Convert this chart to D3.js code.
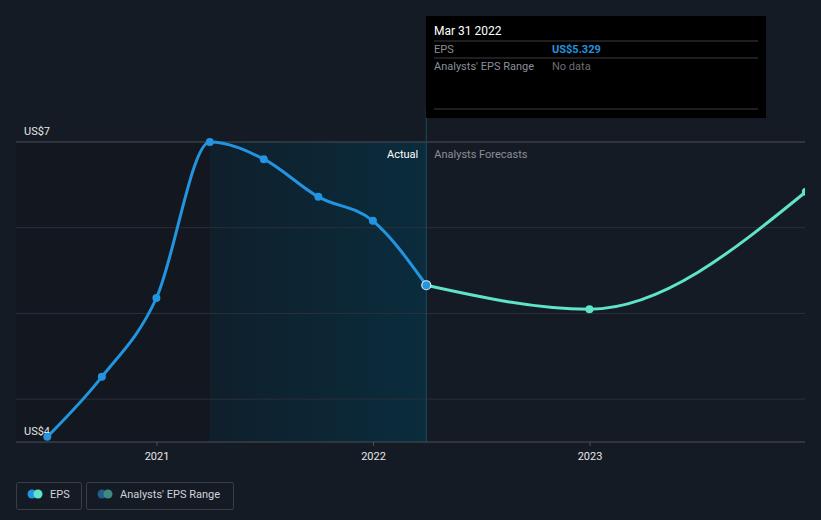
<!DOCTYPE html>
<html><head><meta charset="utf-8">
<script src="https://cdn.jsdelivr.net/npm/d3@7"></script>
<style>
html,body{margin:0;padding:0;background:#151b24;}
svg{display:block;font-family:Roboto,"Open Sans",sans-serif;}
</style></head>
<body><svg id="c" width="821" height="520"></svg>
<script>
const actualDates = ["2020-06-30","2020-09-30","2020-12-31","2021-03-31","2021-06-30","2021-09-30","2021-12-31","2022-03-31"];
const actualEPS = [3.56, 4.26, 5.18, 7.0, 6.80, 6.36, 6.08, 5.329];
const forecastDates = ["2022-03-31","2022-12-31","2023-12-31"];
const forecastEPS = [5.329, 5.05, 6.42];
const gridValues = [4, 5, 6, 7];
const yTickLabels = [{v:7, t:"US$7"}, {v:3.5, t:"US$4"}];
const xTicks = ["2021-01-01","2022-01-01","2023-01-01"];
const shadeStart = "2021-03-31", shadeEnd = "2022-03-31";

const parse = d3.utcParse("%Y-%m-%d");
const svg = d3.select("#c");
const L = 16, R = 805, T = 142, B = 442;
const t21 = +parse("2021-01-01"), t23 = +parse("2023-01-01");
const pxPerMs = (590 - 157) / (t23 - t21);
const x = d3.scaleUtc()
  .domain([new Date(t21 - (157 - L) / pxPerMs), new Date(t21 + (R - 157) / pxPerMs)])
  .range([L, R]);
const y = d3.scaleLinear().domain([3.5, 7]).range([B, T]);

const defs = svg.append("defs");
const g1 = defs.append("linearGradient").attr("id","shade").attr("x1","0").attr("x2","1").attr("y1","0").attr("y2","0");
g1.append("stop").attr("offset","0").attr("stop-color","#0f1f2b");
g1.append("stop").attr("offset","1").attr("stop-color","#0a2c3d");
defs.append("clipPath").attr("id","clip").append("rect").attr("x",L).attr("y",0).attr("width",R-L).attr("height",B);

svg.append("rect").attr("x",L).attr("y",T).attr("width",x(parse(shadeStart))-L).attr("height",B-T).attr("fill","#13171f");
svg.append("rect").attr("x",x(parse(shadeStart))).attr("y",T).attr("width",x(parse(shadeEnd))-x(parse(shadeStart))).attr("height",B-T).attr("fill","url(#shade)");

svg.selectAll(".grid").data(gridValues).join("line")
  .attr("x1",L).attr("x2",R).attr("y1",d=>y(d)).attr("y2",d=>y(d))
  .attr("stroke", d=> d===7 ? "#4a4f57" : "#2b303a").attr("stroke-width",1);
svg.append("line").attr("x1",L).attr("x2",R).attr("y1",B).attr("y2",B).attr("stroke","#4a4f57");
svg.selectAll(".xt").data(xTicks).join("line")
  .attr("x1",d=>x(parse(d))).attr("x2",d=>x(parse(d))).attr("y1",B).attr("y2",B+4).attr("stroke","#4a4f57");
svg.selectAll(".xl").data(xTicks).join("text")
  .attr("x",d=>x(parse(d))).attr("y",B+18).attr("text-anchor","middle")
  .attr("fill","#e6e6e6").attr("font-size",11).text(d=>d.slice(0,4));
svg.selectAll(".yl").data(yTickLabels).join("text")
  .attr("x",24).attr("y",d=>y(d.v)-7).attr("fill","#e6e6e6").attr("font-size",11).text(d=>d.t);

const xd = x(parse(shadeEnd));
svg.append("line").attr("x1",xd).attr("x2",xd).attr("y1",110).attr("y2",B).attr("stroke","#1c4a62").attr("stroke-width",1);
svg.append("text").attr("x",xd-8).attr("y",158).attr("text-anchor","end").attr("fill","#ffffff").attr("font-size",11).text("Actual");
svg.append("text").attr("x",xd+8).attr("y",158).attr("fill","#8a8f98").attr("font-size",11).text("Analysts Forecasts");

const line = d3.line().curve(d3.curveMonotoneX).x(d=>x(d.d)).y(d=>y(d.v));
const act = actualDates.map((d,i)=>({d:parse(d), v:actualEPS[i]}));
const fc = forecastDates.map((d,i)=>({d:parse(d), v:forecastEPS[i]}));
const plot = svg.append("g").attr("clip-path","url(#clip)");
plot.append("path").datum(fc).attr("d",line).attr("fill","none").attr("stroke","#5fe3c9").attr("stroke-width",3);
plot.append("path").datum(act).attr("d",line).attr("fill","none").attr("stroke","#2394df").attr("stroke-width",3);
plot.selectAll(".fp").data(fc.slice(1)).join("circle").attr("cx",d=>x(d.d)).attr("cy",d=>y(d.v)).attr("r",4).attr("fill","#5fe3c9");
plot.selectAll(".ap").data(act.slice(0,-1)).join("circle").attr("cx",d=>x(d.d)).attr("cy",d=>y(d.v)).attr("r",4).attr("fill","#2394df");
const last = act[act.length-1];
plot.append("circle").attr("cx",x(last.d)).attr("cy",y(last.v)).attr("r",4.5).attr("fill","#2394df").attr("stroke","#d8e8f5").attr("stroke-width",1.2);

const tt = svg.append("g");
tt.append("rect").attr("x",426).attr("y",16).attr("width",340).attr("height",102).attr("fill","#000");
tt.append("text").attr("x",434).attr("y",35).attr("fill","#fff").attr("font-size",12).text("Mar 31 2022");
[41,58,109].forEach(yy=>tt.append("line").attr("x1",434).attr("x2",758).attr("y1",yy).attr("y2",yy).attr("stroke","#3a3d42"));
tt.append("text").attr("x",434).attr("y",53).attr("fill","#8a8f98").attr("font-size",11).text("EPS");
tt.append("text").attr("x",552).attr("y",53).attr("fill","#2394df").attr("font-size",11).attr("font-weight",700).text("US$" + actualEPS[actualEPS.length-1].toFixed(3));
tt.append("text").attr("x",434).attr("y",70).attr("fill","#8a8f98").attr("font-size",11).text("Analysts' EPS Range");
tt.append("text").attr("x",552).attr("y",70).attr("fill","#6a6e75").attr("font-size",11).text("No data");

const lg = [{x:16,w:65,label:"EPS",c1:"#2394df",c2:"#5fe3c9"},{x:86,w:147,label:"Analysts' EPS Range",c1:"#1f5f8a",c2:"#3e8a82"}];
const leg = svg.selectAll(".lg").data(lg).join("g");
leg.append("rect").attr("x",d=>d.x+0.5).attr("y",482.5).attr("width",d=>d.w).attr("height",27).attr("rx",2).attr("fill","none").attr("stroke","#3a3f47");
leg.append("circle").attr("cx",d=>d.x+16).attr("cy",494).attr("r",4.5).attr("fill",d=>d.c1);
leg.append("circle").attr("cx",d=>d.x+22).attr("cy",494).attr("r",4.5).attr("fill",d=>d.c2);
leg.append("text").attr("x",d=>d.x+34).attr("y",498).attr("fill","#d0d3d8").attr("font-size",11).text(d=>d.label);
</script></body></html>
